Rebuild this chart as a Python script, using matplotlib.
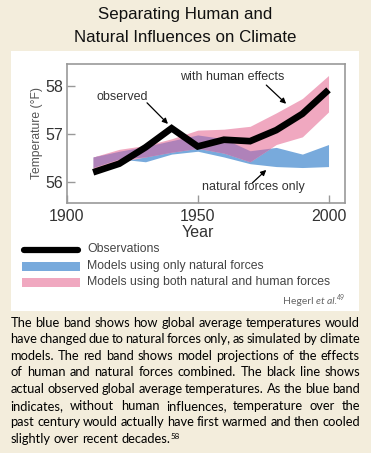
import matplotlib
matplotlib.use('Agg')
import matplotlib.pyplot as plt
from matplotlib.lines import Line2D
from matplotlib.patches import Rectangle
import numpy as np

# decade values (deg F)
years = [1910, 1920, 1930, 1940, 1950, 1960, 1970, 1980, 1990, 2000]
observed = [56.20, 56.38, 56.72, 57.12, 56.74, 56.88, 56.85, 57.08, 57.42, 57.92]
human_lo = [56.22, 56.42, 56.52, 56.62, 56.70, 56.60, 56.42, 56.78, 56.94, 57.46]
human_hi = [56.52, 56.68, 56.76, 56.90, 57.08, 57.10, 57.16, 57.44, 57.74, 58.22]
natural_lo = [56.30, 56.48, 56.42, 56.58, 56.64, 56.52, 56.38, 56.32, 56.30, 56.32]
natural_hi = [56.52, 56.64, 56.74, 56.86, 56.98, 56.90, 56.65, 56.72, 56.58, 56.78]

x_ticks = [1900, 1950, 2000]
y_ticks = [56, 57, 58]

legend_labels = ['Observations', 'Models using only natural forces',
                 'Models using both natural and human forces']

caption = ["The blue band shows how global average temperatures would",
           "have changed due to natural forces only, as simulated by climate",
           "models. The red band shows model projections of the effects",
           "of human and natural forces combined. The black line shows",
           "actual observed global average temperatures. As the blue band",
           "indicates, without human influences, temperature over the",
           "past century would actually have first warmed and then cooled",
           "slightly over recent decades."]

BLUE = '#78AADC'
PINK = '#F0A8C0'
PURPLE = '#AF82B9'
BG = '#F3EDDC'
SANS = 'Liberation Sans'
BODY = 'Lato'

W, H = 371, 453
fig = plt.figure(figsize=(W / 100, H / 100), dpi=100, facecolor=BG)

def fx(px):
    return px / W

def fy(py):
    return 1 - py / H

# white panel behind the chart
fig.add_artist(Rectangle((fx(11), fy(311)), fx(348), 260 / H, transform=fig.transFigure,
                         facecolor='white', edgecolor='none', zorder=0))

fig.text(fx(185), fy(15), 'Separating Human and', ha='center', va='center',
         fontsize=12.2, family=SANS, color='#111111')
fig.text(fx(185), fy(37), 'Natural Influences on Climate', ha='center', va='center',
         fontsize=12.2, family=SANS, color='#111111')

ax = fig.add_axes([fx(67), fy(203), fx(278), 139 / H])
ax.set_zorder(1)

yrs = np.array(years)
nlo, nhi = np.array(natural_lo), np.array(natural_hi)
hlo, hhi = np.array(human_lo), np.array(human_hi)
ax.fill_between(yrs, nlo, nhi, color=BLUE, lw=0)
ax.fill_between(yrs, hlo, hhi, color=PINK, lw=0)
olo, ohi = np.maximum(nlo, hlo), np.minimum(nhi, hhi)
ax.fill_between(yrs, olo, ohi, where=ohi > olo, interpolate=True, color=PURPLE, lw=0)
ax.plot(years, observed, color='black', lw=4.8, solid_joinstyle='miter', solid_capstyle='butt')

ax.set_xlim(1900, 2006.3)
ax.set_ylim(55.56, 58.46)
ax.set_xticks(x_ticks)
ax.set_yticks(y_ticks)
ax.tick_params(direction='in', length=5.5, width=1, color='#999999',
               labelsize=11.5, labelcolor='#333333')
ax.tick_params(axis='x', pad=4.5)
ax.tick_params(axis='y', pad=3)
for lab in ax.get_xticklabels() + ax.get_yticklabels():
    lab.set_family(SANS)
for s in ax.spines.values():
    s.set_color('#999999')
    s.set_linewidth(1.2)

fig.text(fx(198), fy(233), 'Year', ha='center', va='center', fontsize=11.5,
         family=SANS, color='#333333')
fig.text(fx(37), fy(133), 'Temperature (\u00b0F)', ha='center', va='center', rotation=90,
         fontsize=8.7, family=SANS, color='#555555')

arrow = dict(arrowstyle='-|>', color='black', lw=0.9, mutation_scale=8, shrinkA=0, shrinkB=0)
note = dict(fontsize=9, family=SANS, color='#333333', ha='center', va='center')
ax.annotate('', xy=(1938.6, 57.21), xytext=(1930.6, 57.65), arrowprops=arrow)
ax.annotate('', xy=(1983.8, 57.63), xytext=(1976.2, 58.02), arrowprops=arrow)
ax.annotate('', xy=(1976.2, 56.25), xytext=(1970.9, 55.98), arrowprops=arrow)
ax.text(1921.3, 57.77, 'observed', **note)
ax.text(1963.0, 58.19, 'with human effects', **note)
ax.text(1971.3, 55.90, 'natural forces only', **note)

# legend drawn by hand
fig.add_artist(Line2D([fx(24), fx(78)], [fy(250), fy(250)], transform=fig.transFigure,
                      color='black', lw=4.5, solid_capstyle='round'))
for py, c in [(266, BLUE), (282, PINK)]:
    fig.add_artist(Rectangle((fx(22), fy(py + 4.5)), fx(58), 9 / H, transform=fig.transFigure,
                             facecolor=c, edgecolor='none'))
for py, lab in zip([249, 266, 282], legend_labels):
    fig.text(fx(87), fy(py), lab, ha='left', va='center', fontsize=8.8,
             family=SANS, color='#444444')

renderer = fig.canvas.get_renderer()

def width_of(s, **kw):
    t = fig.text(0, 0, s, **kw)
    w = t.get_window_extent(renderer).width / W
    t.remove()
    return w

# credit line, right aligned
cred = dict(fontsize=7.5, family=BODY, color='#666666', va='baseline')
parts = [('Hegerl ', {}), ('et al.', {'style': 'italic'})]
w_sup = width_of('49', **{**cred, 'fontsize': 5})
total = sum(width_of(s, **{**cred, **k}) for s, k in parts) + w_sup
x = fx(345) - total
for s, k in parts:
    fig.text(x, fy(304), s, **{**cred, **k})
    x += width_of(s, **{**cred, **k})
fig.text(x + fx(0.5), fy(300), '49', **{**cred, 'fontsize': 5})

# justified caption
body = dict(fontsize=9.3, family=BODY, color='black', va='baseline')
x0, x1 = fx(10.5), fx(360)
space = width_of('a a', **body) - 2 * width_of('a', **body)
end = x0
for i, line in enumerate(caption):
    y = fy(326.7 + i * 16.6)
    words = line.split()
    widths = [width_of(w, **body) for w in words]
    if i == len(caption) - 1:
        gap = space
    else:
        gap = (x1 - x0 - sum(widths)) / (len(words) - 1)
    x = x0
    for w, wd in zip(words, widths):
        fig.text(x, y, w, **body)
        end = x + wd
        x += wd + gap
fig.text(end + fx(0.5), fy(326.7 + 7 * 16.6 - 4), '58', **{**body, 'fontsize': 5.8})

fig.savefig('out.png', dpi=100, facecolor=BG)
